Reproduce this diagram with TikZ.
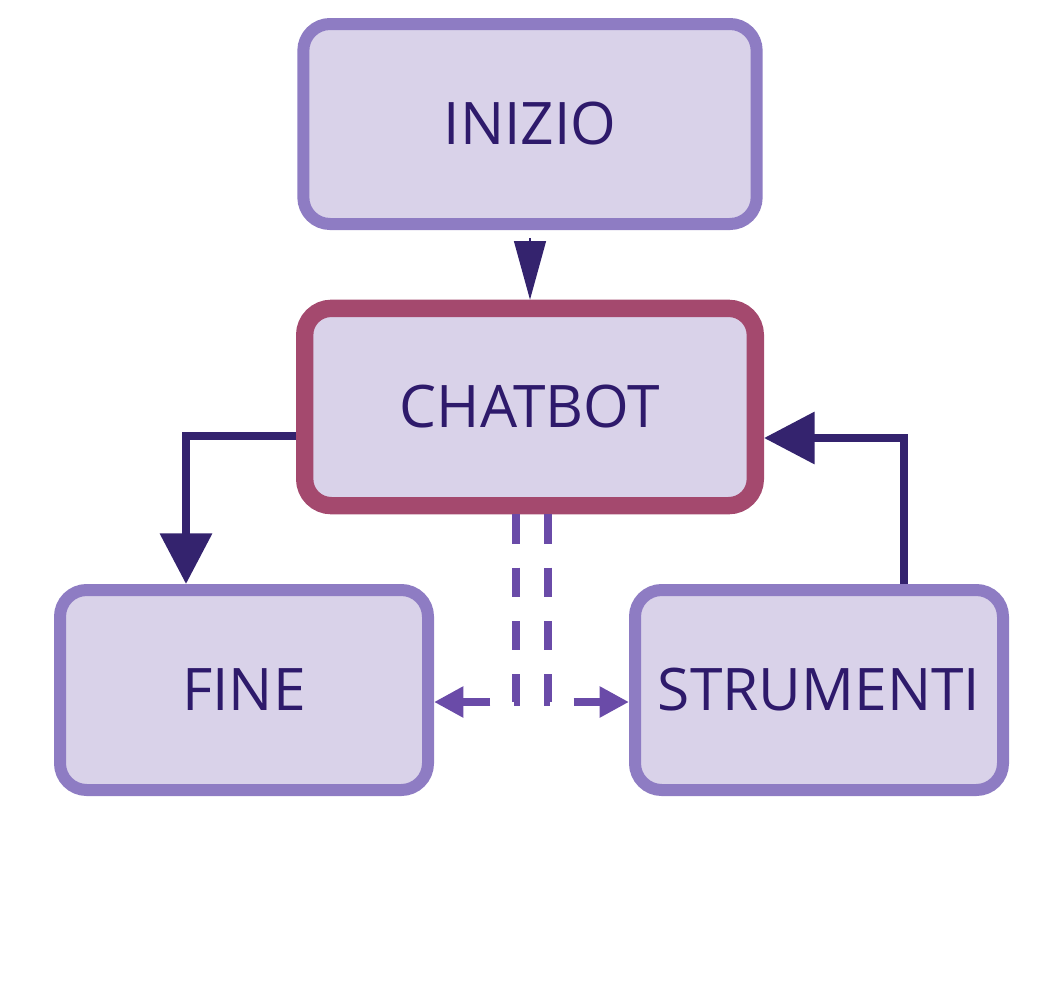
\documentclass[tikz,border=0pt]{standalone}
\usepackage{fontspec}
\setsansfont{Open Sans}
\usetikzlibrary{arrows.meta}
\definecolor{bfill}{HTML}{D9D2E9}
\definecolor{bdraw}{HTML}{8E7CC3}
\definecolor{cdraw}{HTML}{A4496E}
\definecolor{txt}{HTML}{2E1A6B}
\definecolor{arr}{HTML}{34236E}
\definecolor{dash}{HTML}{6A4BA8}
\begin{document}
\begin{tikzpicture}[x=0.75pt,y=-0.75pt,
 box/.style={draw=bdraw,fill=bfill,line width=9pt,rounded corners=20pt,font=\sffamily\fontsize{44}{50}\selectfont,text=txt},
 con/.style={draw=arr,line width=6pt,-{Triangle[length=38pt,width=38pt]}},
 dsh/.style={draw=dash,line width=6pt,dash pattern=on 22pt off 18pt,-{Triangle[length=22pt,width=22pt]}}]
\useasboundingbox (0,0) rectangle (1064,992);
\node[box,minimum width=340pt,minimum height=150pt] (ini) at (530,124) {INIZIO};
\node[box,draw=cdraw,line width=13pt,minimum width=338pt,minimum height=148pt] (chat) at (530,407) {CHATBOT};
\node[box,minimum width=276pt,minimum height=150pt] (fine) at (244,690) {FINE};
\node[box,minimum width=276pt,minimum height=150pt,inner sep=0pt] (str) at (819,690) {STRUMENTI};
\draw[draw=arr,line width=1pt,-{Triangle[length=44pt,width=24pt]}] (ini.south) ++(0,8) -- (chat.north);
\coordinate (a1) at (186,436);
\draw[con] (chat.west |- a1) -- (a1) -- (fine.north -| a1);
\coordinate (a2) at (904,438);
\draw[con] (str.north -| a2) -- (a2) -- (chat.east |- a2);
\coordinate (d1) at (516,702);
\coordinate (d2) at (548,702);
\draw[dsh] (chat.south -| d1) -- (d1) -- (fine.east |- d1);
\draw[dsh] (chat.south -| d2) -- (d2) -- (str.west |- d2);
\end{tikzpicture}
\end{document}
